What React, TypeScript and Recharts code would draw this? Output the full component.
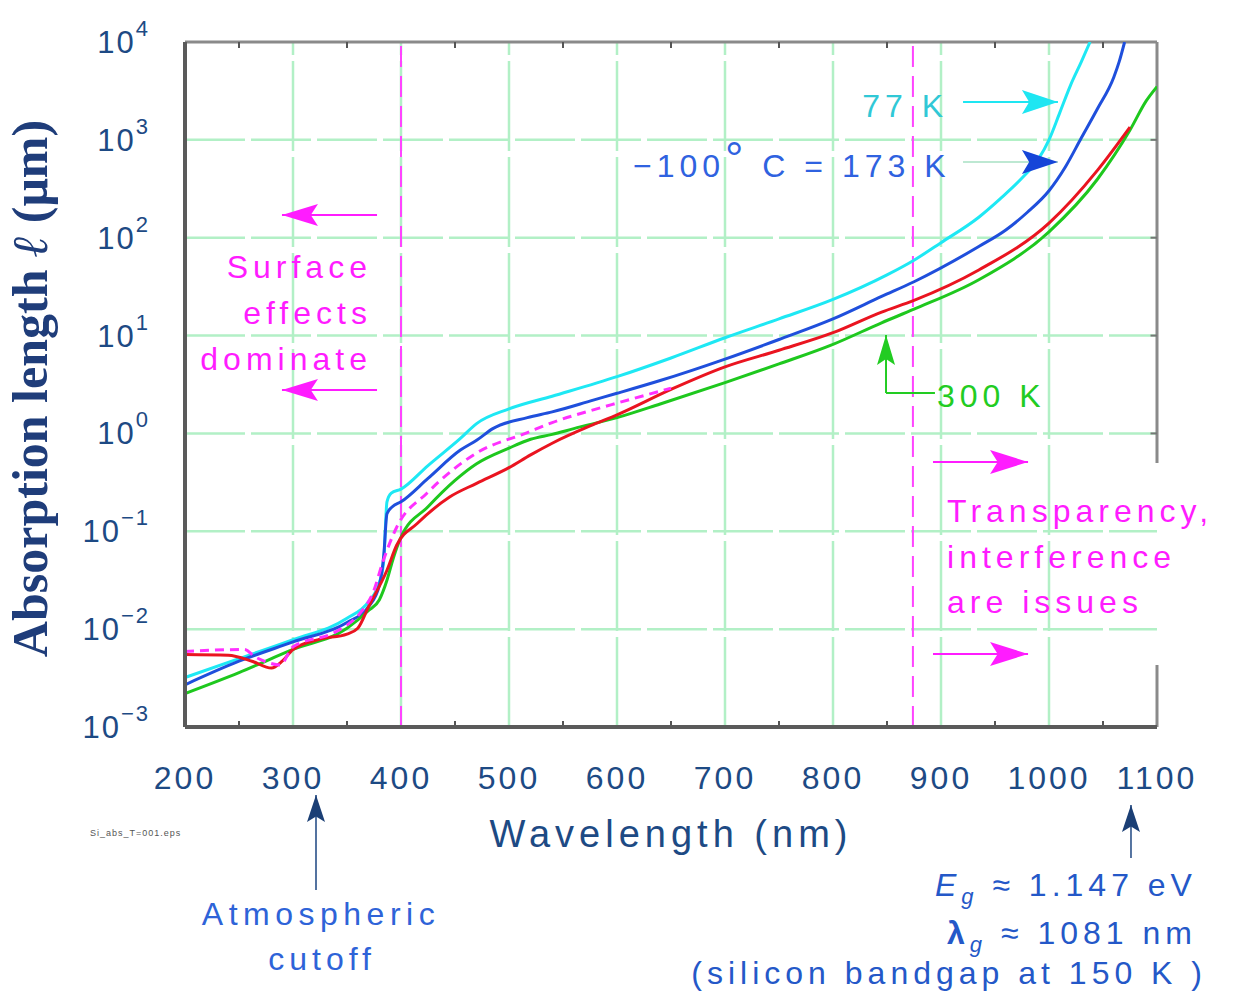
import React from 'react'
import { Line, LineChart, ReferenceDot, ReferenceLine, XAxis, YAxis } from 'recharts'

const SANS = '"Liberation Sans", Arial, Helvetica, sans-serif'
const SERIF = '"Liberation Serif", "Times New Roman", serif'

const NAVY = '#1d4a84'
const MAGENTA = '#ff1cff'
const GRID = '#b2f0c6'

const X_TICKS = [200, 300, 400, 500, 600, 700, 800, 900, 1000, 1100]
const Y_TICKS = [0.001, 0.01, 0.1, 1, 10, 100, 1000, 10000]
const GRID_X = [300, 400, 500, 600, 700, 800, 900, 1000]
const GRID_Y = [0.01, 0.1, 1, 10, 100, 1000]
const MINOR_X = [250, 350, 450, 550, 650, 750, 850, 950, 1050]
const DECADES_RIGHT = [0.01, 0.1, 1, 10, 100, 1000]
const CUTOFF_NM = [400, 874]

// wavelength (nm) -> absorption length (um)
const NM_77K = [200, 250, 300, 350, 370, 380, 384, 387, 391, 400, 425, 455, 470, 500, 540, 600, 650, 700, 750, 800, 850, 875, 900, 935, 955, 975, 990, 1000, 1010, 1020, 1030, 1038]
const L_77K = [0.0032, 0.005, 0.0078, 0.0129, 0.0191, 0.03, 0.05, 0.2, 0.245, 0.27, 0.47, 0.89, 1.26, 1.78, 2.4, 3.8, 5.9, 9.5, 14.8, 23.4, 41.7, 58.9, 89, 162, 251, 407, 631, 1000, 1900, 3630, 6310, 10000]

const NM_173K = [200, 250, 300, 350, 370, 380, 384, 387, 392, 400, 425, 455, 470, 485, 517, 540, 578, 600, 640, 700, 750, 800, 845, 875, 935, 960, 980, 1000, 1015, 1030, 1045, 1060, 1065, 1070]
const L_173K = [0.0027, 0.0047, 0.0074, 0.0117, 0.017, 0.0282, 0.056, 0.151, 0.178, 0.2, 0.347, 0.676, 0.851, 1.12, 1.45, 1.66, 2.19, 2.57, 3.47, 5.75, 9.12, 14.8, 25.1, 35.5, 81.3, 120, 182, 302, 525, 1050, 2090, 4370, 6300, 10000]

const NM_300K = [200, 250, 300, 350, 370, 380, 387, 393, 400, 425, 450, 470, 500, 520, 540, 560, 600, 640, 700, 750, 800, 845, 875, 935, 1000, 1045, 1075, 1090, 1100]
const L_300K = [0.0022, 0.0036, 0.0062, 0.0102, 0.0155, 0.02, 0.0316, 0.0537, 0.087, 0.178, 0.331, 0.49, 0.708, 0.871, 0.977, 1.12, 1.45, 2.0, 3.31, 5.13, 8.13, 13.5, 18.6, 37.2, 115, 398, 1259, 2500, 3500]

const NM_RED = [200, 240, 262, 280, 290, 300, 325, 350, 360, 370, 387, 396, 415, 445, 470, 500, 520, 540, 578, 600, 650, 700, 750, 800, 845, 875, 935, 1000, 1045, 1075]
const L_RED = [0.0055, 0.0054, 0.0047, 0.004, 0.0047, 0.0062, 0.0079, 0.0089, 0.0102, 0.017, 0.04, 0.072, 0.12, 0.224, 0.309, 0.447, 0.603, 0.794, 1.23, 1.55, 2.82, 4.79, 7.08, 10.7, 17.4, 22.9, 46.8, 141, 490, 1349]

const NM_DASH = [200, 255, 265, 276, 288, 300, 337, 350, 362, 375, 383, 396, 424, 470, 517, 540, 578, 600, 650]
const L_DASH = [0.0059, 0.0062, 0.0052, 0.0046, 0.0043, 0.0066, 0.0091, 0.011, 0.0145, 0.0251, 0.048, 0.11, 0.245, 0.631, 1.02, 1.29, 1.74, 2.04, 2.9]

const rows = (nm: number[], l: number[]) => nm.map((x, i) => ({ nm: x, l: l[i] }))

// annotation anchors: [wavelength nm, log10 of absorption length]
type Note = { at: [number, number]; anchor: 'start' | 'middle' | 'end'; color: string; size: number; body: React.ReactNode; spacing?: number }

const NOTES: Note[] = [
  { at: [827, 3.234], anchor: 'start', color: '#30c8d6', size: 32, body: '77 K' },
  {
    at: [614.8, 2.62], anchor: 'start', color: '#2f62e0', size: 32,
    body: (<><tspan>−100</tspan><tspan fontSize={46} dy={-2}>°</tspan><tspan dy={2}> C = 173 K</tspan></>),
  },
  { at: [896.3, 0.27], anchor: 'start', color: '#22cc22', size: 32, body: '300 K' },
  { at: [373.1, 1.588], anchor: 'end', color: MAGENTA, size: 32, body: 'Surface' },
  { at: [373.1, 1.118], anchor: 'end', color: MAGENTA, size: 32, body: 'effects' },
  { at: [373.1, 0.648], anchor: 'end', color: MAGENTA, size: 32, body: 'dominate' },
  { at: [905.6, -0.905], anchor: 'start', color: MAGENTA, size: 32, body: 'Transparency,' },
  { at: [905.6, -1.375], anchor: 'start', color: MAGENTA, size: 32, body: 'interference' },
  { at: [905.6, -1.835], anchor: 'start', color: MAGENTA, size: 32, body: 'are issues' },
  { at: [325.9, -5.023], anchor: 'middle', color: '#2e63d8', size: 32, body: 'Atmospheric', spacing: 5.5 },
  { at: [326.9, -5.483], anchor: 'middle', color: '#2e63d8', size: 32, body: 'cutoff' },
  {
    at: [1137, -4.727], anchor: 'end', color: '#2458c8', size: 32,
    body: (<><tspan fontStyle="italic">E</tspan><tspan fontStyle="italic" fontSize={22} dy={8}>g</tspan><tspan dy={-8}> ≈ 1.147 eV</tspan></>),
  },
  {
    at: [1137, -5.218], anchor: 'end', color: '#2458c8', size: 32,
    body: (<><tspan fontWeight="bold">λ</tspan><tspan fontStyle="italic" fontSize={22} dy={8}>g</tspan><tspan dy={-8}> ≈ 1081 nm</tspan></>),
  },
  { at: [1146.3, -5.626], anchor: 'end', color: '#2458c8', size: 32, body: '(silicon bandgap at 150 K )' },
  { at: [112, -4.114], anchor: 'start', color: '#555555', size: 9, body: 'Si_abs_T=001.eps', spacing: 1 },
]

type Arrow = { from: [number, number]; to: [number, number]; dir: 'left' | 'right' | 'up'; head: string; shaft: string; len: number; half: number }

const ARROWS: Arrow[] = [
  { from: [377.8, 2.232], to: [289.8, 2.232], dir: 'left', head: MAGENTA, shaft: MAGENTA, len: 36, half: 11 },
  { from: [377.8, 0.444], to: [289.8, 0.444], dir: 'left', head: MAGENTA, shaft: MAGENTA, len: 36, half: 11 },
  { from: [892.6, -0.292], to: [980.6, -0.292], dir: 'right', head: MAGENTA, shaft: MAGENTA, len: 38, half: 12 },
  { from: [892.6, -2.254], to: [980.6, -2.254], dir: 'right', head: MAGENTA, shaft: MAGENTA, len: 38, half: 12 },
  { from: [920.4, 3.387], to: [1008.3, 3.387], dir: 'right', head: '#1ee6f2', shaft: '#1ee6f2', len: 36, half: 12 },
  { from: [920.4, 2.774], to: [1008.3, 2.774], dir: 'right', head: '#1545d8', shaft: '#bde8d2', len: 36, half: 12 },
  { from: [849.1, 0.413], to: [849.1, 1.006], dir: 'up', head: '#22cc22', shaft: '#22cc22', len: 30, half: 9 },
  { from: [321.3, -4.666], to: [321.3, -3.695], dir: 'up', head: '#1b3f75', shaft: '#5473a0', len: 27, half: 9 },
  { from: [1075.9, -4.339], to: [1075.9, -3.797], dir: 'up', head: '#1b3f75', shaft: '#5473a0', len: 27, half: 9 },
]
const BEND_300K: [number, number][] = [[894.4, 0.413], [849.1, 0.413]]

function headShape(dir: Arrow['dir'], color: string, len: number, half: number) {
  return (p: any) => {
    const { cx, cy } = p
    const n = len * 0.8
    let pts = ''
    if (dir === 'right') pts = `${cx},${cy} ${cx - len},${cy - half} ${cx - n},${cy} ${cx - len},${cy + half}`
    if (dir === 'left') pts = `${cx},${cy} ${cx + len},${cy - half} ${cx + n},${cy} ${cx + len},${cy + half}`
    if (dir === 'up') pts = `${cx},${cy} ${cx - half},${cy + len} ${cx},${cy + n} ${cx + half},${cy + len}`
    return <polygon points={pts} fill={color} />
  }
}

function XTick(p: any) {
  return (
    <text x={p.x} y={p.y + 60} textAnchor="middle" fill={NAVY} fontFamily={SANS} fontSize={32} letterSpacing={3}>
      {p.payload.value}
    </text>
  )
}

function YTick(p: any) {
  const e = Math.round(Math.log10(p.payload.value))
  return (
    <text x={p.x - 33} y={p.y + 11} textAnchor="end" fill={NAVY} fontFamily={SANS} fontSize={31} letterSpacing={2}>
      <tspan>10</tspan>
      <tspan fontSize={22} dy={-17}>{e < 0 ? `−${-e}` : `${e}`}</tspan>
    </text>
  )
}

export default function App() {
  return (
    <div>
      <style>{'body{margin:0;overflow:hidden;background:#fff}'}</style>
      <LineChart width={1233} height={993} margin={{ top: 42, right: 76, bottom: 206, left: 0 }}>
        <XAxis
          dataKey="nm"
          type="number"
          domain={[200, 1100]}
          ticks={X_TICKS}
          interval={0}
          height={60}
          tickSize={0}
          tickLine={false}
          axisLine={{ stroke: '#5a5a5a', strokeWidth: 4 }}
          tick={XTick}
          allowDataOverflow
          label={{
            content: (p: any) => (
              <text x={p.viewBox.x + p.viewBox.width / 2} y={p.viewBox.y + 120} textAnchor="middle" fill={NAVY} fontFamily={SANS} fontSize={38} letterSpacing={5}>
                Wavelength (nm)
              </text>
            ),
          }}
        />
        <YAxis
          scale="log"
          domain={[0.001, 10000]}
          ticks={Y_TICKS}
          interval={0}
          width={185}
          tickSize={0}
          tickLine={false}
          axisLine={{ stroke: '#5a5a5a', strokeWidth: 4 }}
          tick={YTick}
          allowDataOverflow
          label={{
            content: (p: any) => (
              <text
                transform={`translate(${p.viewBox.x + 47},${p.viewBox.y + p.viewBox.height / 2 + 4}) rotate(-90)`}
                textAnchor="middle"
                fill="#1f3d7a"
                fontFamily={SERIF}
                fontWeight="bold"
                fontSize={50}
              >
                Absorption length <tspan fontStyle="italic">ℓ</tspan> (μm)
              </text>
            ),
          }}
        />

        {GRID_X.map((x) => (
          <ReferenceLine key={`gx${x}`} x={x} stroke={GRID} strokeWidth={2.5} strokeDasharray="90 6" ifOverflow="visible" />
        ))}
        {GRID_Y.map((y) => (
          <ReferenceLine key={`gy${y}`} y={y} stroke={GRID} strokeWidth={2.5} strokeDasharray="60 6" ifOverflow="visible" />
        ))}
        {CUTOFF_NM.map((x) => (
          <ReferenceLine key={`c${x}`} x={x} stroke="#ff44ff" strokeWidth={2} strokeDasharray="21 9" ifOverflow="visible" />
        ))}

        <ReferenceLine y={10000} stroke="#8a8a8a" strokeWidth={3} ifOverflow="visible" />
        <ReferenceLine segment={[{ x: 1100, y: 10000 }, { x: 1100, y: 0.5 }]} stroke="#8a8a8a" strokeWidth={3} ifOverflow="visible" />
        <ReferenceLine segment={[{ x: 1100, y: 0.0043 }, { x: 1100, y: 0.001 }]} stroke="#8a8a8a" strokeWidth={3} ifOverflow="visible" />
        {MINOR_X.map((x) => (
          <ReferenceLine key={`tb${x}`} segment={[{ x, y: 0.001 }, { x, y: 0.00115 }]} stroke="#555" strokeWidth={2} ifOverflow="visible" />
        ))}
        {MINOR_X.map((x) => (
          <ReferenceLine key={`tt${x}`} segment={[{ x, y: 10000 }, { x, y: 8700 }]} stroke="#555" strokeWidth={2} ifOverflow="visible" />
        ))}
        {DECADES_RIGHT.filter((y) => y > 0.4 || y < 0.005).map((y) => (
          <ReferenceLine key={`tr${y}`} segment={[{ x: 1100, y }, { x: 1094, y }]} stroke="#777" strokeWidth={2} ifOverflow="visible" />
        ))}

        <Line data={rows(NM_77K, L_77K)} dataKey="l" type="monotone" stroke="#1ee8f4" strokeWidth={3} dot={false} isAnimationActive={false} />
        <Line data={rows(NM_173K, L_173K)} dataKey="l" type="monotone" stroke="#1f4fdc" strokeWidth={3} dot={false} isAnimationActive={false} />
        <Line data={rows(NM_300K, L_300K)} dataKey="l" type="monotone" stroke="#1ec81e" strokeWidth={3} dot={false} isAnimationActive={false} />
        <Line data={rows(NM_RED, L_RED)} dataKey="l" type="monotone" stroke="#ea1420" strokeWidth={3} dot={false} isAnimationActive={false} />
        <Line data={rows(NM_DASH, L_DASH)} dataKey="l" type="monotone" stroke="#ff30ff" strokeWidth={3} strokeDasharray="9 6" dot={false} isAnimationActive={false} />

        {ARROWS.map((a, i) => (
          <ReferenceLine
            key={`as${i}`}
            segment={[{ x: a.from[0], y: 10 ** a.from[1] }, { x: a.to[0], y: 10 ** a.to[1] }]}
            stroke={a.shaft}
            strokeWidth={2}
            ifOverflow="visible"
          />
        ))}
        <ReferenceLine
          segment={BEND_300K.map(([x, lg]) => ({ x, y: 10 ** lg }))}
          stroke="#22cc22"
          strokeWidth={2}
          ifOverflow="visible"
        />
        {ARROWS.map((a, i) => (
          <ReferenceDot key={`ah${i}`} x={a.to[0]} y={10 ** a.to[1]} ifOverflow="visible" shape={headShape(a.dir, a.head, a.len, a.half)} />
        ))}

        {NOTES.map((n, i) => (
          <ReferenceDot
            key={`n${i}`}
            x={n.at[0]}
            y={10 ** n.at[1]}
            ifOverflow="visible"
            shape={(p: any) => (
              <text x={p.cx} y={p.cy} textAnchor={n.anchor} fill={n.color} fontFamily={SANS} fontSize={n.size} letterSpacing={n.spacing ?? 5}>
                {n.body}
              </text>
            )}
          />
        ))}
      </LineChart>
    </div>
  )
}
